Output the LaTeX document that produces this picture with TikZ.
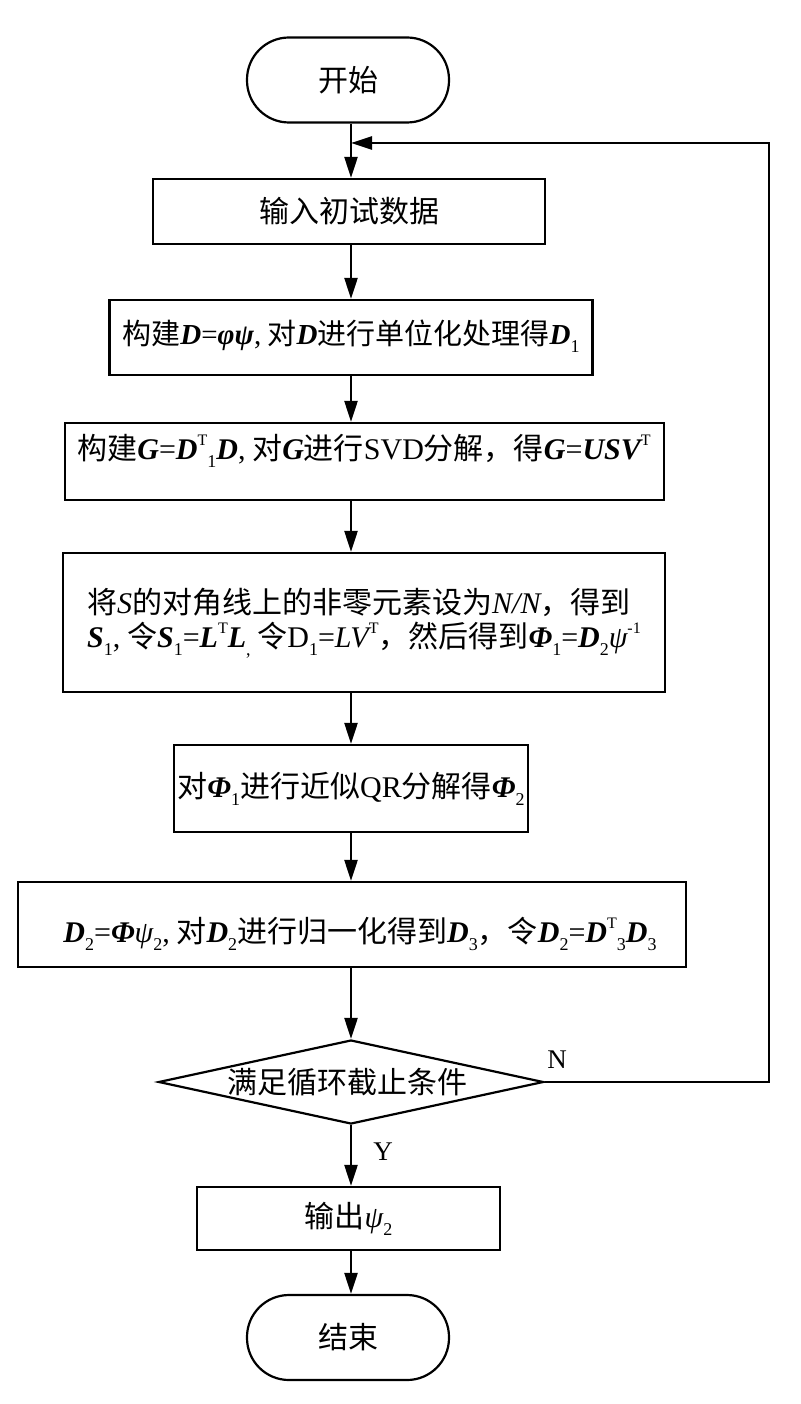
\documentclass[tikz,border=0pt]{standalone}
\usepackage{fontspec}
\setmainfont{Noto Sans CJK SC}
\newfontfamily\lt{Liberation Serif}
\usetikzlibrary{arrows.meta,shapes.geometric}
\newcommand\bi[1]{{\lt\bfseries\itshape #1}}
\newcommand\ii[1]{{\lt\itshape #1}}
\newcommand\rr[1]{{\lt #1}}
\newcommand\lo[1]{\raisebox{-0.5ex}{\fontsize{18}{18}\selectfont\lt #1}}
\newcommand\hi[1]{\raisebox{0.85ex}{\fontsize{16}{16}\selectfont\lt #1}}
\tikzset{
  base/.style={draw, line width=2.2pt, inner sep=0pt, font=\fontsize{30}{34}\selectfont},
  term/.style={base, minimum width=202pt, minimum height=85pt, rounded corners=42pt},
  proc/.style={base, rectangle},
  dec/.style={base, diamond, aspect=4.6},
  txt/.style={inner sep=0pt, font=\fontsize{30}{34}\selectfont},
  arr/.style={line width=2.4pt, -{Triangle[length=21pt,width=13pt]}},
  lbl/.style={inner sep=0pt, font=\fontsize{27}{27}\selectfont\lt}
}
\begin{document}
\begin{tikzpicture}[x=1pt,y=-1pt]
\useasboundingbox (0,0) rectangle (800,1404);
\coordinate (axis) at (351,0);
\node[term] (start) at (348,80) {开始};
\node[proc, minimum width=392pt, minimum height=65pt] (b1) at (349,211.5) {输入初试数据};
\node[proc, minimum width=483pt, minimum height=75pt] (b2) at (351,337.5) {};
\node[txt, font=\fontsize{29}{34}\selectfont] at (351,336) {构建\bi{D}\rr{=}\bi{φψ}\rr{,} 对\bi{D}进行单位化处理得\bi{D}\lo{1}};
\node[proc, minimum width=599pt, minimum height=77pt] (b3) at (364.5,461.5) {};
\node[txt] at (364,451) {构建\bi{G}\rr{=}\bi{D}\hi{T}\lo{1}\bi{D}\rr{,} 对\bi{G}进行\rr{SVD}分解，得\bi{G}\rr{=}\bi{USV}\hi{T}};
\node[proc, minimum width=602pt, minimum height=139pt] (b4) at (364,622.5) {};
\node[txt, align=left] at (364,623) {将\ii{S}的对角线上的非零元素设为\ii{N/N}，得到\\
\bi{S}\lo{1}\rr{,} 令\bi{S}\lo{1}\rr{=}\bi{L}\hi{T}\bi{L}\lo{,} 令\rr{D}\lo{1}\rr{=}\ii{LV}\hi{T}，然后得到\bi{Φ}\lo{1}\rr{=}\bi{D}\lo{2}\ii{ψ}\hi{-1}};
\node[proc, minimum width=354pt, minimum height=87pt] (b5) at (351,788.5) {对\bi{Φ}\lo{1}进行近似\rr{QR}分解得\bi{Φ}\lo{2}};
\node[proc, minimum width=668pt, minimum height=85pt] (b6) at (352,924.5) {};
\node[txt] at (360,934) {\bi{D}\lo{2}\rr{=}\bi{Φ}\ii{ψ}\lo{2}\rr{,} 对\bi{D}\lo{2}进行归一化得到\bi{D}\lo{3}，令\bi{D}\lo{2}\rr{=}\bi{D}\hi{T}\lo{3}\bi{D}\lo{3}};
\node[dec, minimum width=385pt, minimum height=84pt] (d) at (351,1082) {};
\node[txt] at (347,1082) {满足循环截止条件};
\node[proc, minimum width=303pt, minimum height=63pt] (b7) at (348.5,1218.5) {输出\ii{ψ}\lo{2}};
\node[term] (end) at (348,1337.5) {结束};
\coordinate (loopR) at (769,143);
\coordinate (merge) at (351,143);
\draw[line width=2.4pt] (start.south -| axis) -- (merge);
\draw[arr] (merge) -- (b1.north -| axis);
\draw[arr] (b1.south -| axis) -- (b2.north -| axis);
\draw[arr] (b2.south -| axis) -- (b3.north -| axis);
\draw[arr] (b3.south -| axis) -- (b4.north -| axis);
\draw[arr] (b4.south -| axis) -- (b5.north -| axis);
\draw[arr] (b5.south -| axis) -- (b6.north -| axis);
\draw[arr] (b6.south -| axis) -- (d.north);
\draw[arr] (d.south) -- (b7.north -| d.south);
\draw[arr] (b7.south -| d.south) -- (end.north -| d.south);
\draw[arr] (d.east) -- (d.east -| loopR) -- (loopR) -- (merge);
\node[lbl] at (557,1060) {N};
\node[lbl] at (383,1152) {Y};
\end{tikzpicture}
\end{document}
